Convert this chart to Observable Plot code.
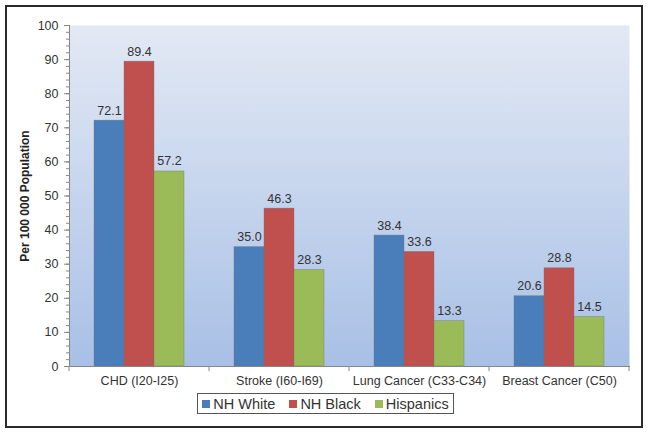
<!DOCTYPE html>
<html><head><meta charset="utf-8">
<script src="https://cdn.jsdelivr.net/npm/d3@7"></script>
<script src="https://cdn.jsdelivr.net/npm/@observablehq/plot@0.6"></script>
<style>
html,body{margin:0;padding:0;background:#fff;}
#wrap{position:relative;width:648px;height:433px;font-family:"Liberation Sans",Arial,sans-serif;color:#333;}
#border{position:absolute;left:5px;top:5px;width:634px;height:419px;border:2px solid #2a2a2a;}
#chart{position:absolute;left:0;top:0;}
#legend{position:absolute;top:393px;left:197px;width:255px;height:19px;border:1px solid #555;background:#fff;display:flex;align-items:center;justify-content:center;gap:14px;font-size:14.5px;}
#legend span.item{display:flex;align-items:center;gap:3px;}
#legend i{display:inline-block;width:8px;height:8px;}
</style></head>
<body><div id="wrap"><div id="border"></div><div id="chart"></div><div id="legend"></div></div>
<script>
const categories = ["CHD (I20-I25)", "Stroke (I60-I69)", "Lung Cancer (C33-C34)", "Breast Cancer (C50)"];
const groups = ["NH White", "NH Black", "Hispanics"];
const nhWhite = [72.1, 35.0, 38.4, 20.6];
const nhBlack = [89.4, 46.3, 33.6, 28.8];
const hispanics = [57.2, 28.3, 13.3, 14.5];
const colors = ["#4a7ebb", "#c0504d", "#9bbb59"];
const majorTicks = d3.range(0, 101, 10);
const minorTicks = d3.range(0, 101, 2);

const series = [nhWhite, nhBlack, hispanics];
const data = [];
categories.forEach((c, i) => groups.forEach((g, j) => data.push({category: c, group: g, value: series[j][i]})));

const chart = Plot.plot({
  width: 648, height: 390,
  marginLeft: 69, marginRight: 19, marginTop: 25, marginBottom: 24,
  style: {fontFamily: "'Liberation Sans', Arial, sans-serif", fontSize: "12px", color: "#333", background: "transparent"},
  fx: {domain: categories, padding: 0, label: null},
  x: {domain: groups, axis: null, paddingInner: 0, paddingOuter: 0.76},
  y: {domain: [0, 100]},
  color: {domain: groups, range: colors},
  marks: [
    Plot.frame({fill: "url(#bgGrad)", stroke: null, facet: "super"}),
    Plot.axisY({ticks: minorTicks, tickSize: 3, tickFormat: () => "", label: null, stroke: "#868686"}),
    Plot.axisY({ticks: majorTicks, tickSize: 5, tickPadding: 6, label: null, stroke: "#868686", fontSize: 12.5}),
    Plot.axisY({ticks: [], label: "Per 100 000 Population", labelAnchor: "center", labelArrow: "none", labelOffset: 49, fontSize: 12, fontWeight: "bold", fill: "#222"}),
    Plot.axisFx({anchor: "bottom", tickSize: 0, tickPadding: 10, label: null, fontSize: 12.5}),
    Plot.barY(data, {fx: "category", x: "group", y: "value", fill: "group", stroke: "#6f6f6f", strokeWidth: 0.6, strokeOpacity: 0.6}),
    Plot.text(data, {fx: "category", x: "group", y: "value", text: d => d.value.toFixed(1), dy: -10, fontSize: 12.5, fill: "#333"}),
    Plot.frame({anchor: "left", stroke: "#868686", facet: "super"}),
    Plot.frame({anchor: "bottom", stroke: "#868686", facet: "super"})
  ]
});
document.getElementById("chart").appendChild(chart);

// gradient for plot background
const svg = d3.select(chart.tagName.toLowerCase() === "svg" ? chart : chart.querySelector("svg"));
const grad = svg.insert("defs", ":first-child").append("linearGradient")
  .attr("id", "bgGrad").attr("x1", 0).attr("y1", 0).attr("x2", 0).attr("y2", 1);
grad.append("stop").attr("offset", "0%").attr("stop-color", "#e3e9f4");
grad.append("stop").attr("offset", "100%").attr("stop-color", "#a8c0e6");

// category boundary ticks on the x axis
const fxs = chart.scale("fx");
const yS = chart.scale("y");
const y0 = yS.apply(0);
const bounds = categories.map(c => fxs.apply(c)).concat([fxs.apply(categories[categories.length - 1]) + fxs.bandwidth]);
svg.append("g").attr("stroke", "#868686").selectAll("line").data(bounds).join("line")
  .attr("x1", d => d).attr("x2", d => d).attr("y1", y0).attr("y2", y0 + 5);

// legend
const leg = d3.select("#legend");
groups.forEach((g, j) => {
  const it = leg.append("span").attr("class", "item");
  it.append("i").style("background", colors[j]);
  it.append("span").text(g);
});
</script></body></html>
